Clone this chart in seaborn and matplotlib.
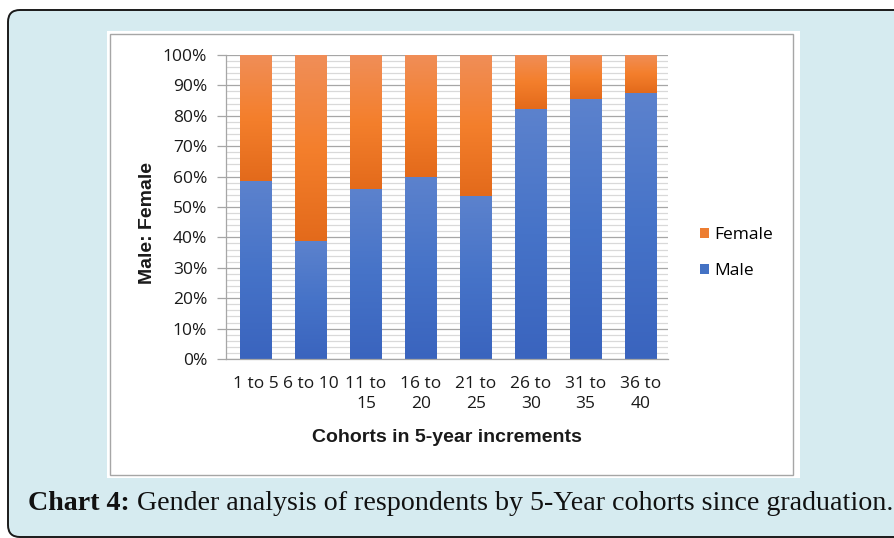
import matplotlib
matplotlib.use("Agg")
import matplotlib.pyplot as plt
import seaborn as sns
import numpy as np
import pandas as pd
from matplotlib.patches import FancyBboxPatch, Rectangle, Patch
from matplotlib.colors import LinearSegmentedColormap
from matplotlib.ticker import MultipleLocator, PercentFormatter
from matplotlib.transforms import IdentityTransform

# data (percent)
cohorts = ['1 to 5', '6 to 10', '11 to\n15', '16 to\n20', '21 to\n25',
           '26 to\n30', '31 to\n35', '36 to\n40']
male_pct = [58.5, 38.6, 55.6, 59.8, 53.5, 82.1, 85.5, 87.4]
female_pct = [41.5, 61.4, 44.4, 40.2, 46.5, 17.9, 14.5, 12.6]

df = pd.DataFrame({'cohort': cohorts, 'Male': male_pct, 'Female': female_pct})
df['Total'] = df['Male'] + df['Female']

blue = '#4472C4'
orange = '#ED7D31'
blue_grad = LinearSegmentedColormap.from_list('b', ['#3A64BE', '#4673C8', '#5C82CD'])
orange_grad = LinearSegmentedColormap.from_list('o', ['#E36A1B', '#F47F2C', '#F08E58'])

W, H = 894, 538
fig = plt.figure(figsize=(W / 100, H / 100), dpi=100)
fig.patch.set_facecolor('white')

# page panel and white chart box (pixel coordinates), kept behind the axes
px = IdentityTransform()
fig.add_artist(FancyBboxPatch((8, 1), 900, 527, boxstyle='round,pad=0,rounding_size=12',
                              transform=px, facecolor='#D6EBF0', edgecolor='#1a1a1a',
                              lw=1.4, zorder=-10))
fig.add_artist(Rectangle((107, H - 478), 693, 447, transform=px, facecolor='white',
                         edgecolor='none', zorder=-9))
fig.add_artist(Rectangle((110, H - 475), 683, 441, transform=px, facecolor='none',
                         edgecolor='#A6A6A6', lw=1, zorder=-8))

ax = fig.add_axes([226 / W, (H - 359) / H, 442 / W, 304 / H])
ax.set_facecolor('none')

sns.barplot(data=df, x='cohort', y='Total', color=orange, saturation=1, width=0.58, ax=ax)
sns.barplot(data=df, x='cohort', y='Male', color=blue, saturation=1, width=0.58, ax=ax)

# Excel-like vertical gradient on each segment
grad = np.linspace(0, 1, 256).reshape(-1, 1)
n = len(df)
for i, p in enumerate(ax.patches[:2 * n]):
    x0, w = p.get_x(), p.get_width()
    k = i % n
    if i < n:
        y0, y1, cmap = df['Male'][k], df['Total'][k], orange_grad
    else:
        y0, y1, cmap = 0, df['Male'][k], blue_grad
    ax.imshow(grad, extent=[x0, x0 + w, y0, y1], origin='lower', cmap=cmap,
              aspect='auto', zorder=1.5, interpolation='bilinear')

ax.set_xlim(-0.55, n - 0.5)
ax.set_ylim(0, 100)
ax.yaxis.set_major_locator(MultipleLocator(10))
ax.yaxis.set_minor_locator(MultipleLocator(2))
ax.yaxis.set_major_formatter(PercentFormatter(decimals=0))
ax.set_axisbelow(True)
ax.grid(which='major', axis='y', color='#A6A6A6', lw=0.9)
ax.grid(which='minor', axis='y', color='#D9D9D9', lw=0.9)
ax.grid(which='major', axis='x', visible=False)
for s in ['top', 'right']:
    ax.spines[s].set_visible(False)
for s in ['left', 'bottom']:
    ax.spines[s].set_color('#A6A6A6')
    ax.spines[s].set_linewidth(0.9)
ax.tick_params(axis='y', which='major', length=6.5, color='#A6A6A6', width=0.9, pad=7,
               labelsize=12.5, labelcolor='#1a1a1a')
ax.tick_params(axis='y', which='minor', length=0)
ax.tick_params(axis='x', length=0, pad=12, labelsize=12.5, labelcolor='#1a1a1a')
for lbl in ax.get_yticklabels() + ax.get_xticklabels():
    lbl.set_family('Open Sans')
for lbl in ax.get_xticklabels():
    lbl.set_linespacing(1.35)
ax.set_xlabel('')
ax.set_ylabel('')

fig.text(147 / W, 1 - 223 / H, 'Male: Female', rotation=90, ha='center', va='center',
         family='Liberation Sans', fontweight='bold', fontsize=14, color='#1a1a1a')
fig.text(447 / W, 1 - 437 / H, 'Cohorts in 5-year increments', ha='center', va='center',
         family='Liberation Sans', fontweight='bold', fontsize=14, color='#1a1a1a')

handles = [Patch(facecolor=orange, edgecolor='none'), Patch(facecolor=blue, edgecolor='none')]
leg = fig.legend(handles, ['Female', 'Male'], loc='center left',
                 bbox_to_anchor=(684 / W, 1 - 253 / H), frameon=False,
                 handlelength=0.55, handleheight=0.55, handletextpad=0.3,
                 labelspacing=1.15, prop={'family': 'Open Sans', 'size': 12.5})

t1 = fig.text(28 / W, 1 - 504 / H, 'Chart 4:', family='Liberation Serif', fontweight='bold',
              fontsize=20.2, va='center', ha='left', color='#111111')
ax.annotate(' Gender analysis of respondents by 5-Year cohorts since graduation.',
            xy=(1, 0), xycoords=t1, va='bottom', ha='left', annotation_clip=False,
            family='Liberation Serif', fontsize=20.2, color='#111111')

fig.savefig('out.png', dpi=100)
